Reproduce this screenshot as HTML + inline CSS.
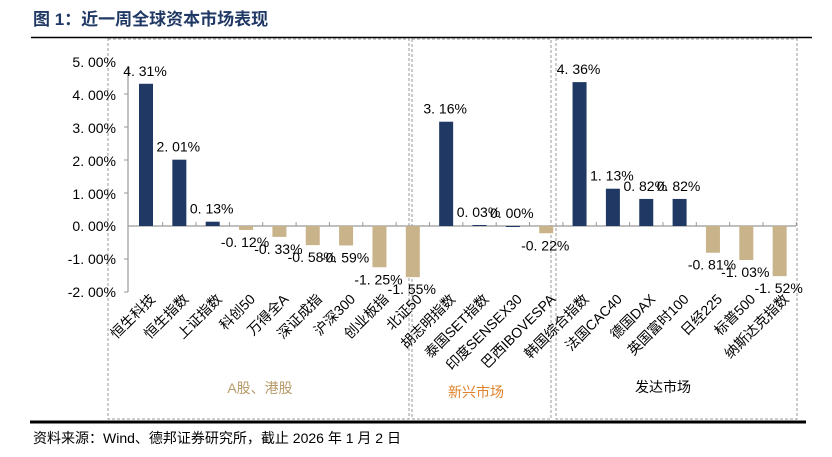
<!DOCTYPE html>
<html><head><meta charset="utf-8"><style>
body{margin:0;background:#fff;width:832px;height:457px;overflow:hidden}
svg{display:block}
text{font-family:"Liberation Sans","Noto Sans CJK SC",sans-serif}
</style></head><body>
<svg width="832" height="457" viewBox="0 0 832 457" xmlns="http://www.w3.org/2000/svg">
<text x="33" y="25" font-size="17" font-weight="bold" fill="#1F3864">图 1：近一周全球资本市场表现</text>
<line x1="31" y1="37.5" x2="812" y2="37.5" stroke="#000" stroke-width="1.5"/>
<line x1="30" y1="422" x2="806" y2="422" stroke="#000" stroke-width="3"/>
<g stroke="#999" stroke-dasharray="3,2" fill="none" stroke-width="1">
<rect x="108" y="39" width="301" height="380"/>
<rect x="412" y="39" width="139" height="380"/>
<rect x="556" y="39" width="241" height="380"/>
</g>
<g font-size="14" fill="#000" text-anchor="end">
<text x="116" y="67">5. 00%</text>
<text x="116" y="100">4. 00%</text>
<text x="116" y="133">3. 00%</text>
<text x="116" y="166">2. 00%</text>
<text x="116" y="199">1. 00%</text>
<text x="116" y="231">0. 00%</text>
<text x="116" y="264">-1. 00%</text>
<text x="116" y="297">-2. 00%</text>
</g>
<line x1="128" y1="66" x2="128" y2="292" stroke="#999" stroke-width="1.2"/>
<g stroke="#999"><line x1="124" y1="94" x2="128" y2="94"/><line x1="124" y1="127" x2="128" y2="127"/><line x1="124" y1="160" x2="128" y2="160"/><line x1="124" y1="193" x2="128" y2="193"/><line x1="124" y1="259" x2="128" y2="259"/><line x1="124" y1="292" x2="128" y2="292"/></g>
<line x1="128" y1="226" x2="796" y2="226" stroke="#999" stroke-width="1.2"/>
<g id="bars"></g>
<g id="lbl" font-size="14"></g>
<text x="260" y="393" font-size="14" fill="#B89A6A" text-anchor="middle">A股、港股</text>
<text x="476" y="397" font-size="14" fill="#E0822A" text-anchor="middle">新兴市场</text>
<text x="663" y="392" font-size="14" fill="#000" text-anchor="middle">发达市场</text>
<text x="33" y="443" font-size="14" fill="#000">资料来源：Wind、德邦证券研究所，截止 2026 年 1 月 2 日</text>
</svg>
<script>
var v=[4.31,2.01,0.13,-0.12,-0.33,-0.58,-0.59,-1.25,-1.55,3.16,0.03,0.00,-0.22,4.36,1.13,0.82,0.82,-0.81,-1.03,-1.52];
var n=["恒生科技","恒生指数","上证指数","科创50","万得全A","深证成指","沪深300","创业板指","北证50","胡志明指数","泰国SET指数","印度SENSEX30","巴西IBOVESPA","韩国综合指数","法国CAC40","德国DAX","英国富时100","日经225","标普500","纳斯达克指数"];
var s="",t="",z=226,k=33;
for(var i=0;i<20;i++){var c=146+33.35*i;var h=v[i]*k;
var y=h>=0?z-h:z;var hh=Math.max(Math.abs(h),1);
s+='<rect x="'+(c-7)+'" y="'+y+'" width="14" height="'+hh+'" fill="'+(v[i]>=0?"#1F3864":"#C9B38A")+'"/>';
s+='<line x1="'+(c+16.7)+'" y1="222" x2="'+(c+16.7)+'" y2="226" stroke="#999"/>';
var ly=v[i]>=0?z-h-8:z-h+17;
t+='<text x="'+(c-1)+'" y="'+ly+'" text-anchor="middle">'+v[i].toFixed(2).replace(/^(-?\d)\./,"$1. ")+'%</text>';
t+='<text transform="translate('+(c+10)+',300) rotate(-45)" text-anchor="end" font-size="14">'+n[i]+'</text>';}
document.getElementById("bars").innerHTML=s;document.getElementById("lbl").innerHTML=t;
</script>
</body></html>
